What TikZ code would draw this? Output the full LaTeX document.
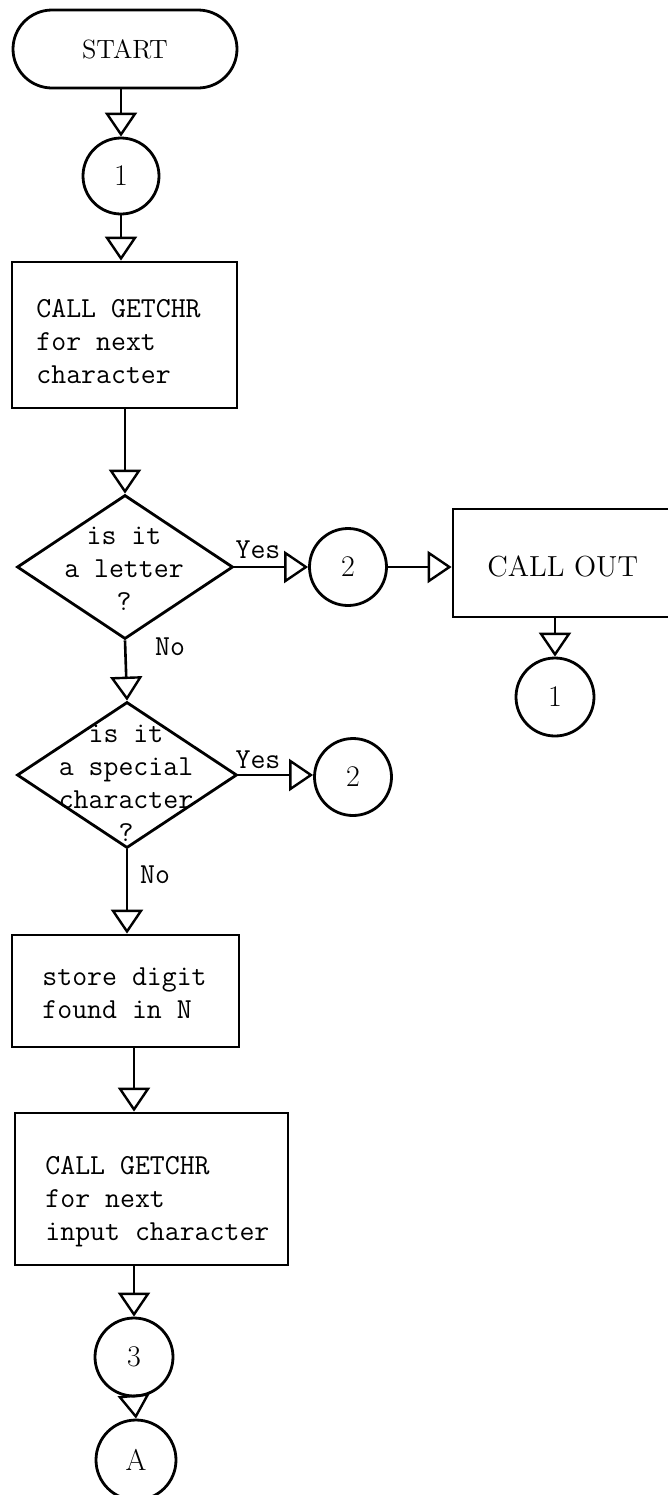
\documentclass[tikz,border=0pt]{standalone}
\usepackage{fontspec}
\usetikzlibrary{arrows.meta,shapes.geometric,shapes.misc}

\tikzset{
  flow/.style={line width=1.3pt, -{Triangle[open, length=12pt, width=16pt, line width=1.2pt]}},
  twfont/.style={font=\ttfamily\fontsize{14.5}{16.5}\selectfont},
  rmfont/.style={font=\rmfamily\fontsize{13.2}{15.5}\selectfont},
  callfont/.style={font=\rmfamily\fontsize{14.5}{17}\selectfont},
  numfont/.style={font=\rmfamily\fontsize{15}{17}\selectfont},
  terminal/.style={draw, line width=1.4pt, rounded rectangle, inner sep=0pt, rmfont},
  procbox/.style={draw, line width=1.4pt, rectangle, inner sep=0pt},
  boxtext/.style={anchor=west, align=left, inner sep=0pt, twfont},
  decision/.style={draw, line width=1.4pt, diamond, inner sep=0pt},
  qtext/.style={align=center, inner sep=0pt, twfont},
  connector/.style={draw, line width=1.4pt, circle, inner sep=0pt, numfont},
  tag/.style={inner sep=0pt, twfont}
}

\begin{document}
\begin{tikzpicture}[x=0.5pt, y=-0.5pt]
  \useasboundingbox (0,0) rectangle (668,1495);

  % main column
  \node[terminal, minimum width=112pt, minimum height=39pt] (start) at (125,49) {START};
  \node[connector, minimum size=38pt] (c1) at (121,176) {1};

  \node[procbox, minimum width=112.5pt, minimum height=73pt] (b1) at (124.5,335) {};
  \node[boxtext] (t1) at (36,342) {CALL GETCHR\\for next\\character};

  \node[decision, minimum width=108pt, minimum height=72pt] (d1) at (125,567) {};
  \node[qtext] (q1) at (124,569) {is it\\a letter\\?};

  \node[decision, minimum width=110pt, minimum height=73pt] (d2) at (127,775) {};
  \node[qtext] (q2) at (126,783) {is it\\a special\\character\\?};

  \node[procbox, minimum width=113.5pt, minimum height=56pt] (b2) at (125.5,991) {};
  \node[boxtext] (t2) at (42,993) {store digit\\found in N};

  \node[procbox, minimum width=136.5pt, minimum height=76pt] (b3) at (151.5,1189) {};
  \node[boxtext] (t3) at (45,1202) {CALL GETCHR\\for next\\input character};

  \node[connector, minimum size=39pt] (c3) at (134,1357) {3};
  \node[connector, minimum size=40pt] (cA) at (136,1460) {A};

  % branch on the right
  \node[connector, minimum size=38.5pt] (c2) at (348,567) {2};
  \node[procbox, minimum width=112pt, minimum height=54pt] (out) at (565,563) {};
  \node[anchor=west, inner sep=0pt, callfont] (tout) at (487,566) {CALL OUT};
  \node[connector, minimum size=39pt] (c1b) at (555,697) {1};
  \node[connector, minimum size=38.5pt] (c2b) at (353,777) {2};

  % connectors
  \draw[flow] (c1 |- start.south) -- (c1.north);
  \draw[flow] (c1.south) -- (c1 |- b1.north);
  \draw[flow] (d1 |- b1.south) -- (d1.north);
  \draw[flow] (d1.east) -- (c2.west);
  \draw[flow] (c2.east) -- (c2.east -| out.west);
  \draw[flow] (c1b |- out.south) -- (c1b.north);
  \draw[flow] (d1.south) -- (d2.north);
  \draw[flow] (d2.east) -- (d2.east -| c2b.west);
  \draw[flow] (d2.south) -- (d2.south |- b2.north);
  \draw[flow] (c3 |- b2.south) -- (c3 |- b3.north);
  \draw[flow] (c3 |- b3.south) -- (c3.north);
  \draw[flow] (c3.south) -- (cA.north);

  % branch labels
  \node[tag] (y1) at (258,550) {Yes};
  \node[tag] (n1) at (170,647) {No};
  \node[tag] (y2) at (258,760) {Yes};
  \node[tag] (n2) at (155,875) {No};
\end{tikzpicture}
\end{document}
